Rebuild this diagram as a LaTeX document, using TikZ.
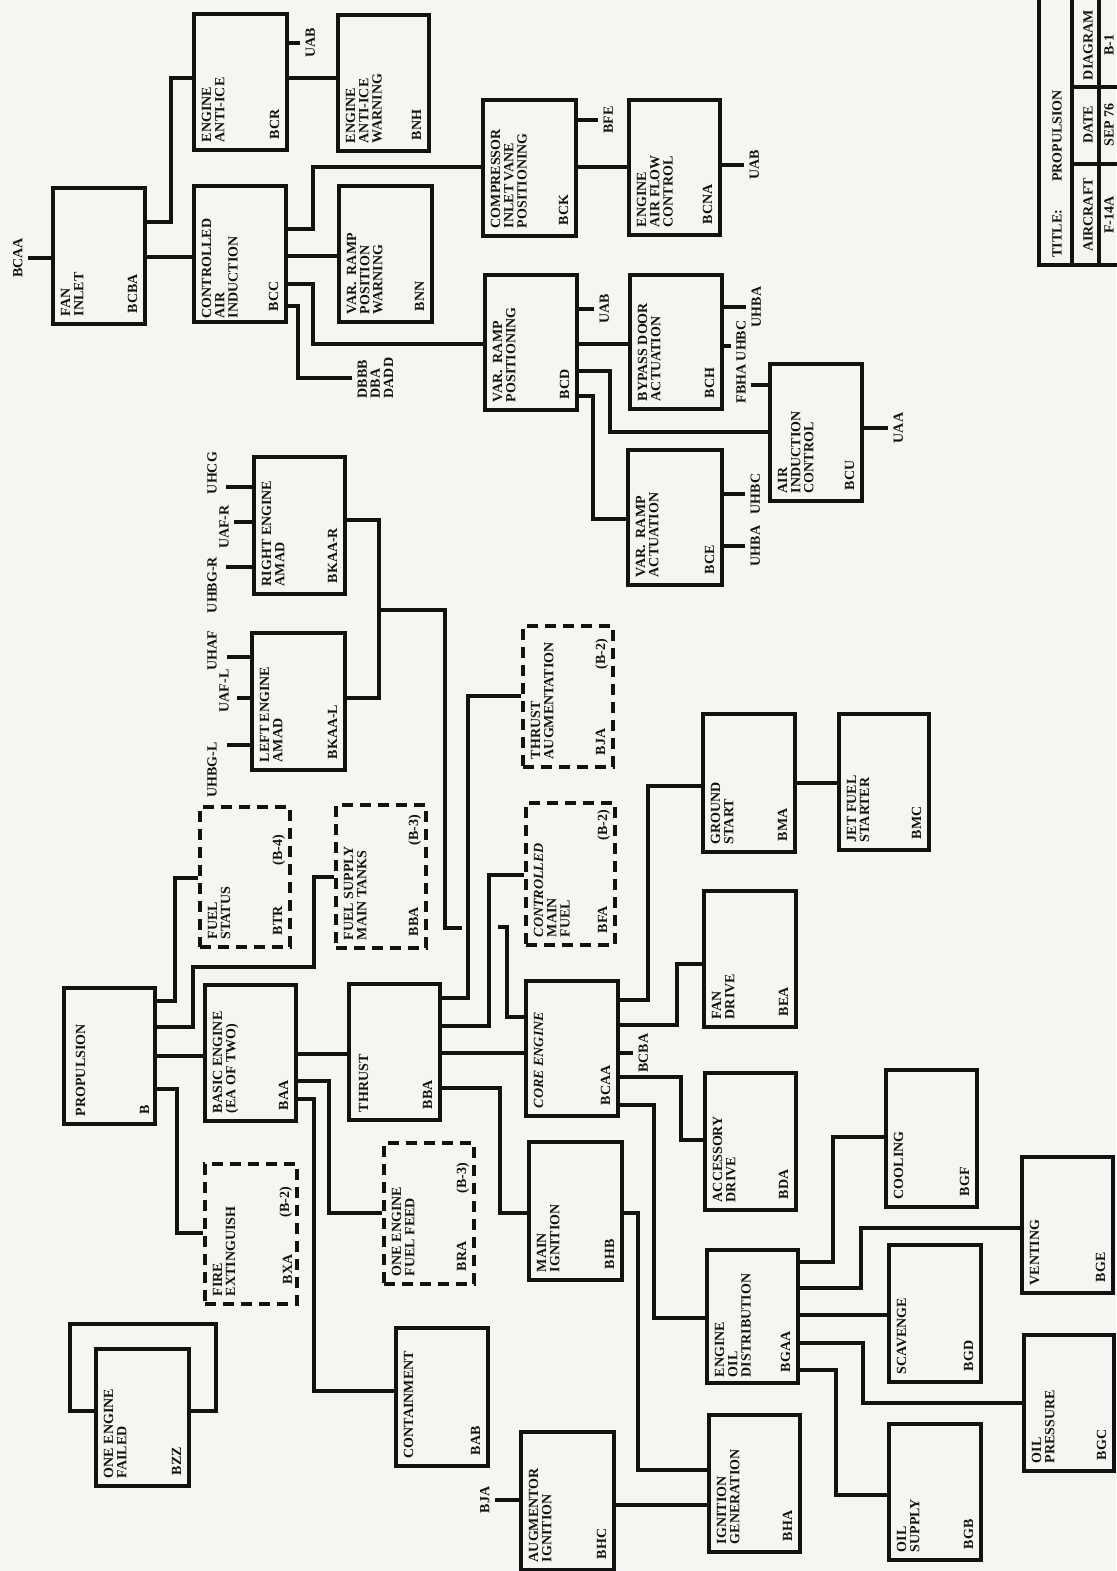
\documentclass[tikz,border=0pt]{standalone}
\usepackage{fontspec}
\setmainfont{Liberation Serif}
\usetikzlibrary{fit,calc}
\definecolor{ink}{RGB}{18,18,18}
\definecolor{paper}{RGB}{245,245,242}

\begin{document}
\begin{tikzpicture}[x=0.5pt,y=-0.5pt,line width=1.6pt,color=ink,
  blk/.style={draw,inner sep=0pt,line width=1.75pt},
  dblk/.style={blk,dash pattern=on 5.5pt off 3.5pt},
  txt/.style={rotate=90,inner sep=0pt,align=left,font=\bfseries\fontsize{7}{6.6}\selectfont},
  lbl/.style={txt,inner sep=2pt}]
\fill[paper] (0,0) rectangle (1116,1571);
\useasboundingbox (0,0) rectangle (1116,1571);

% air induction
\node[blk,fit={(53,188) (145,324)}] (fan) {};
\node[txt,anchor=north west] (fan-t) at ($(fan.south west)+(8,-8)$) {FAN\\INLET};
\node[txt,anchor=south west] (fan-c) at ($(fan.south east)+(-8,-11)$) {BCBA};
\node[blk,fit={(194,14) (287,150)}] (bcr) {};
\node[txt,anchor=north west] (bcr-t) at ($(bcr.south west)+(8,-8)$) {ENGINE\\ANTI-ICE};
\node[txt,anchor=south west] (bcr-c) at ($(bcr.south east)+(-8,-11)$) {BCR};
\node[blk,fit={(338,15) (429,151)}] (bnh) {};
\node[txt,anchor=north west] (bnh-t) at ($(bnh.south west)+(8,-8)$) {ENGINE\\ANTI-ICE\\WARNING};
\node[txt,anchor=south west] (bnh-c) at ($(bnh.south east)+(-8,-11)$) {BNH};
\node[blk,fit={(194,186) (286,322)}] (bcc) {};
\node[txt,anchor=north west] (bcc-t) at ($(bcc.south west)+(8,-4)$) {CONTROLLED\\AIR\\INDUCTION};
\node[txt,anchor=south west] (bcc-c) at ($(bcc.south east)+(-8,-11)$) {BCC};
\node[blk,fit={(339,186) (432,322)}] (bnn) {};
\node[txt,anchor=north west] (bnn-t) at ($(bnn.south west)+(8,-8)$) {VAR.\ \ RAMP\\POSITION\\WARNING};
\node[txt,anchor=south west] (bnn-c) at ($(bnn.south east)+(-8,-11)$) {BNN};
\node[blk,fit={(483,100) (576,236)}] (bck) {};
\node[txt,anchor=north west] (bck-t) at ($(bck.south west)+(8,-8)$) {COMPRESSOR\\INLET VANE\\POSITIONING};
\node[txt,anchor=south west] (bck-c) at ($(bck.south east)+(-8,-11)$) {BCK};
\node[blk,fit={(629,100) (720,235)}] (bcna) {};
\node[txt,anchor=north west] (bcna-t) at ($(bcna.south west)+(8,-8)$) {ENGINE\\AIR FLOW\\CONTROL};
\node[txt,anchor=south west] (bcna-c) at ($(bcna.south east)+(-8,-11)$) {BCNA};
\node[blk,fit={(485,275) (577,410)}] (bcd) {};
\node[txt,anchor=north west] (bcd-t) at ($(bcd.south west)+(8,-8)$) {VAR.\ \ RAMP\\POSITIONING};
\node[txt,anchor=south west] (bcd-c) at ($(bcd.south east)+(-8,-11)$) {BCD};
\node[blk,fit={(630,275) (722,409)}] (bch) {};
\node[txt,anchor=north west] (bch-t) at ($(bch.south west)+(8,-8)$) {BYPASS DOOR\\ACTUATION};
\node[txt,anchor=south west] (bch-c) at ($(bch.south east)+(-8,-11)$) {BCH};
\node[blk,fit={(770,364) (862,501)}] (bcu) {};
\node[txt,anchor=north west] (bcu-t) at ($(bcu.south west)+(8,-8)$) {AIR\\INDUCTION\\CONTROL};
\node[txt,anchor=south west] (bcu-c) at ($(bcu.south east)+(-8,-11)$) {BCU};
\node[blk,fit={(628,450) (722,585)}] (bce) {};
\node[txt,anchor=north west] (bce-t) at ($(bce.south west)+(8,-8)$) {VAR.\ \ RAMP\\ACTUATION};
\node[txt,anchor=south west] (bce-c) at ($(bce.south east)+(-8,-11)$) {BCE};

% stub labels, air induction
\node[lbl,anchor=south] (l-bcaa) at (28,258) {BCAA};
\node[lbl,anchor=north] (l-uab1) at (300,43) {UAB};
\node[lbl,anchor=north] (l-bfe) at (598,120) {BFE};
\node[lbl,anchor=north] (l-uab2) at (744,165) {UAB};
\node[lbl,anchor=north] (l-uab3) at (594,309) {UAB};
\node[lbl,anchor=north] (l-uhba1) at (746,307) {UHBA};
\node[lbl] (l-fu) at (741,362) {FBHA UHBC};
\node[lbl,anchor=north] (l-uaa) at (888,428) {UAA};
\node[lbl,anchor=north] (l-uhbc) at (745,494) {UHBC};
\node[lbl,anchor=north] (l-uhba2) at (745,546) {UHBA};
\node[lbl,anchor=north] (l-db) at (352,378) {DBBB\\DBA\\DADD};

\draw (l-bcaa.south) -- (fan.west |- l-bcaa.south);
\draw (fan.east |- 0,222) -- (171,222) |- (bcr.west |- 0,78);
\draw (fan.east |- 0,257) -- (bcc.west |- 0,257);
\draw (bcr.east |- 0,78) -- (bnh.west |- 0,78);
\draw (bcr.east |- l-uab1.north) -- (l-uab1.north);
\draw (bcc.east |- 0,229) -- (313,229) |- (bck.west |- 0,167);
\draw (bcc.east |- 0,256) -- (bnn.west |- 0,256);
\draw (bcc.east |- 0,284) -- (313,284) |- (bcd.west |- 0,344);
\draw (bcc.east |- 0,306) -- (298,306) |- (l-db.north);
\draw (bck.east |- l-bfe.north) -- (l-bfe.north);
\draw (bck.east |- 0,167) -- (bcna.west |- 0,167);
\draw (bcna.east |- l-uab2.north) -- (l-uab2.north);
\draw (bcd.east |- l-uab3.north) -- (l-uab3.north);
\draw (bcd.east |- 0,344) -- (bch.west |- 0,344);
\draw (bcd.east |- 0,371) -- (610,371) |- (bcu.west |- 0,432);
\draw (bcd.east |- 0,396) -- (593,396) |- (bce.west |- 0,519);
\draw (bch.east |- l-uhba1.north) -- (l-uhba1.north);
\draw (bch.east |- 0,346) -- (l-fu.north |- 0,346);
\draw (l-fu.south |- 0,385) -- (bcu.west |- 0,385);
\draw (bcu.east |- l-uaa.north) -- (l-uaa.north);
\draw (bce.east |- l-uhbc.north) -- (l-uhbc.north);
\draw (bce.east |- l-uhba2.north) -- (l-uhba2.north);

% amad
\node[blk,fit={(254,457) (345,594)}] (bkr) {};
\node[txt,anchor=north west] (bkr-t) at ($(bkr.south west)+(8,-8)$) {RIGHT ENGINE\\AMAD};
\node[txt,anchor=south west] (bkr-c) at ($(bkr.south east)+(-8,-11)$) {BKAA-R};
\node[blk,fit={(252,633) (345,770)}] (bkl) {};
\node[txt,anchor=north west] (bkl-t) at ($(bkl.south west)+(8,-8)$) {LEFT ENGINE\\AMAD};
\node[txt,anchor=south west] (bkl-c) at ($(bkl.south east)+(-8,-11)$) {BKAA-L};
\node[lbl] (l-uhcg) at (212,473) {UHCG};
\node[lbl] (l-uafr) at (224,527) {UAF-R};
\node[lbl] (l-uhbgr) at (212,585) {UHBG-R};
\node[lbl] (l-uhaf) at (212,651) {UHAF};
\node[lbl] (l-uafl) at (224,691) {UAF-L};
\node[lbl] (l-uhbgl) at (212,770) {UHBG-L};
\coordinate (e-uhcg) at (226,487);
\coordinate (e-uafr) at (234,522);
\coordinate (e-uhbgr) at (226,567);
\coordinate (e-uhaf) at (227,657);
\coordinate (e-uafl) at (237,698);
\coordinate (e-uhbgl) at (227,745);
\coordinate (jn) at (379,610);
\coordinate (gapl) at (462,928);
\coordinate (gapr) at (498,927);
\draw (bkr.west |- e-uhcg) -- (e-uhcg);
\draw (bkr.west |- e-uafr) -- (e-uafr);
\draw (bkr.west |- e-uhbgr) -- (e-uhbgr);
\draw (bkl.west |- e-uhaf) -- (e-uhaf);
\draw (bkl.west |- e-uafl) -- (e-uafl);
\draw (bkl.west |- e-uhbgl) -- (e-uhbgl);
\draw (bkr.east |- 0,520) -- (379,520) |- (bkl.east |- 0,698);
\draw (jn) -| (445,928) -- (gapl);

% propulsion
\node[blk,fit={(64,988) (155,1124)}] (prop) {};
\node[txt,anchor=north west] (prop-t) at ($(prop.south west)+(12,-8)$) {PROPULSION};
\node[txt,anchor=south west] (prop-c) at ($(prop.south east)+(-6,-10)$) {B};
\node[dblk,fit={(200,807) (290,947)}] (btr) {};
\node[txt,anchor=north west] (btr-t) at ($(btr.south west)+(8,-8)$) {FUEL\\STATUS};
\node[txt,anchor=south west] (btr-c) at ($(btr.south east)+(-8,-12)$) {BTR};
\node[txt,anchor=south east] (btr-g) at ($(btr.north east)+(-5,28)$) {(B-4)};
\node[dblk,fit={(336,805) (426,948)}] (bsa) {};
\node[txt,anchor=north west] (bsa-t) at ($(bsa.south west)+(8,-8)$) {FUEL SUPPLY\\MAIN TANKS};
\node[txt,anchor=south west] (bsa-c) at ($(bsa.south east)+(-8,-12)$) {BBA};
\node[txt,anchor=south east] (bsa-g) at ($(bsa.north east)+(-5,10)$) {(B-3)};
\node[blk,fit={(205,985) (296,1121)}] (baa) {};
\node[txt,anchor=north west] (baa-t) at ($(baa.south west)+(8,-8)$) {BASIC ENGINE\\(EA OF TWO)};
\node[txt,anchor=south west] (baa-c) at ($(baa.south east)+(-8,-11)$) {BAA};
\node[blk,fit={(349,984) (440,1120)}] (bba) {};
\node[txt,anchor=north west] (bba-t) at ($(bba.south west)+(10,-8)$) {THRUST};
\node[txt,anchor=south west] (bba-c) at ($(bba.south east)+(-8,-11)$) {BBA};
\node[dblk,fit={(523,626) (613,767)}] (bja) {};
\node[txt,anchor=north west] (bja-t) at ($(bja.south west)+(8,-8)$) {THRUST\\AUGMENTATION};
\node[txt,anchor=south west] (bja-c) at ($(bja.south east)+(-8,-12)$) {BJA};
\node[txt,anchor=south east] (bja-g) at ($(bja.north east)+(-5,13)$) {(B-2)};
\node[dblk,fit={(526,803) (615,945)}] (bfa) {};
\node[txt,anchor=north west] (bfa-t) at ($(bfa.south west)+(8,-8)$) {\itshape CONTROLLED\\MAIN\\FUEL};
\node[txt,anchor=south west] (bfa-c) at ($(bfa.south east)+(-8,-12)$) {BFA};
\node[txt,anchor=south east] (bfa-g) at ($(bfa.north east)+(-5,7)$) {(B-2)};
\node[blk,fit={(526,981) (618,1116)}] (bcaa) {};
\node[txt,anchor=north west] (bcaa-t) at ($(bcaa.south west)+(8,-8)$) {\itshape CORE ENGINE};
\node[txt,anchor=south west] (bcaa-c) at ($(bcaa.south east)+(-8,-11)$) {BCAA};
\node[blk,fit={(703,714) (795,852)}] (bma) {};
\node[txt,anchor=north west] (bma-t) at ($(bma.south west)+(8,-8)$) {GROUND\\START};
\node[txt,anchor=south west] (bma-c) at ($(bma.south east)+(-8,-11)$) {BMA};
\node[blk,fit={(839,714) (929,850)}] (bmc) {};
\node[txt,anchor=north west] (bmc-t) at ($(bmc.south west)+(8,-8)$) {JET FUEL\\STARTER};
\node[txt,anchor=south west] (bmc-c) at ($(bmc.south east)+(-8,-11)$) {BMC};
\node[blk,fit={(704,891) (796,1027)}] (bea) {};
\node[txt,anchor=north west] (bea-t) at ($(bea.south west)+(8,-8)$) {FAN\\DRIVE};
\node[txt,anchor=south west] (bea-c) at ($(bea.south east)+(-8,-11)$) {BEA};
\node[dblk,fit={(205,1164) (297,1304)}] (bxa) {};
\node[txt,anchor=north west] (bxa-t) at ($(bxa.south west)+(8,-8)$) {FIRE\\EXTINGUISH};
\node[txt,anchor=south west] (bxa-c) at ($(bxa.south east)+(-5,-20)$) {BXA};
\node[txt,anchor=south east] (bxa-g) at ($(bxa.north east)+(-5,23)$) {(B-2)};
\node[dblk,fit={(384,1143) (474,1284)}] (bra) {};
\node[txt,anchor=north west] (bra-t) at ($(bra.south west)+(8,-8)$) {ONE ENGINE\\FUEL FEED};
\node[txt,anchor=south west] (bra-c) at ($(bra.south east)+(-8,-13)$) {BRA};
\node[txt,anchor=south east] (bra-g) at ($(bra.north east)+(-5,20)$) {(B-3)};
\node[blk,fit={(529,1142) (622,1280)}] (bhb) {};
\node[txt,anchor=north west] (bhb-t) at ($(bhb.south west)+(8,-8)$) {MAIN\\IGNITION};
\node[txt,anchor=south west] (bhb-c) at ($(bhb.south east)+(-8,-11)$) {BHB};
\node[blk,fit={(705,1073) (796,1210)}] (bda) {};
\node[txt,anchor=north west] (bda-t) at ($(bda.south west)+(8,-8)$) {ACCESSORY\\DRIVE};
\node[txt,anchor=south west] (bda-c) at ($(bda.south east)+(-8,-11)$) {BDA};
\node[blk,fit={(96,1349) (189,1486)}] (bzz) {};
\node[txt,anchor=north west] (bzz-t) at ($(bzz.south west)+(8,-8)$) {ONE ENGINE\\FAILED};
\node[txt,anchor=south west] (bzz-c) at ($(bzz.south east)+(-8,-11)$) {BZZ};
\node[blk,fit={(396,1328) (488,1466)}] (bab) {};
\node[txt,anchor=north west] (bab-t) at ($(bab.south west)+(8,-8)$) {CONTAINMENT};
\node[txt,anchor=south west] (bab-c) at ($(bab.south east)+(-8,-11)$) {BAB};
\node[blk,fit={(521,1432) (614,1570)}] (bhc) {};
\node[txt,anchor=north west] (bhc-t) at ($(bhc.south west)+(8,-8)$) {AUGMENTOR\\IGNITION};
\node[txt,anchor=south west] (bhc-c) at ($(bhc.south east)+(-8,-11)$) {BHC};
\node[blk,fit={(709,1415) (800,1552)}] (bha) {};
\node[txt,anchor=north west] (bha-t) at ($(bha.south west)+(8,-8)$) {IGNITION\\GENERATION};
\node[txt,anchor=south west] (bha-c) at ($(bha.south east)+(-8,-11)$) {BHA};

% oil
\node[blk,fit={(707,1250) (798,1383)}] (bgaa) {};
\node[txt,anchor=north west] (bgaa-t) at ($(bgaa.south west)+(8,-6)$) {ENGINE\\OIL\\DISTRIBUTION};
\node[txt,anchor=south west] (bgaa-c) at ($(bgaa.south east)+(-8,-11)$) {BGAA};
\node[blk,fit={(886,1070) (977,1207)}] (bgf) {};
\node[txt,anchor=north west] (bgf-t) at ($(bgf.south west)+(8,-8)$) {COOLING};
\node[txt,anchor=south west] (bgf-c) at ($(bgf.south east)+(-8,-11)$) {BGF};
\node[blk,fit={(1022,1157) (1113,1293)}] (bge) {};
\node[txt,anchor=north west] (bge-t) at ($(bge.south west)+(8,-8)$) {VENTING};
\node[txt,anchor=south west] (bge-c) at ($(bge.south east)+(-8,-11)$) {BGE};
\node[blk,fit={(889,1245) (981,1382)}] (bgd) {};
\node[txt,anchor=north west] (bgd-t) at ($(bgd.south west)+(8,-8)$) {SCAVENGE};
\node[txt,anchor=south west] (bgd-c) at ($(bgd.south east)+(-8,-11)$) {BGD};
\node[blk,fit={(1024,1335) (1114,1471)}] (bgc) {};
\node[txt,anchor=north west] (bgc-t) at ($(bgc.south west)+(8,-8)$) {OIL\\PRESSURE};
\node[txt,anchor=south west] (bgc-c) at ($(bgc.south east)+(-8,-11)$) {BGC};
\node[blk,fit={(889,1424) (981,1560)}] (bgb) {};
\node[txt,anchor=north west] (bgb-t) at ($(bgb.south west)+(8,-8)$) {OIL\\SUPPLY};
\node[txt,anchor=south west] (bgb-c) at ($(bgb.south east)+(-8,-11)$) {BGB};

\node[lbl,anchor=north] (l-bcba) at (633,1053) {BCBA};
\node[lbl,anchor=south] (l-bja) at (495,1500) {BJA};

\draw (gapr) -- (507,927) |- (bcaa.west |- 0,1017);
\draw (prop.east |- 0,1001) -- (175,1001) |- (btr.west |- 0,878);
\draw (prop.east |- 0,1027) -- (193,1027) |- (314,967) |- (bsa.west |- 0,877);
\draw (prop.east |- 0,1056) -- (baa.west |- 0,1056);
\draw (prop.east |- 0,1089) -- (177,1089) |- (bxa.west |- 0,1233);
\draw (baa.east |- 0,1054) -- (bba.west |- 0,1054);
\draw (baa.east |- 0,1081) -- (329,1081) |- (bra.west |- 0,1213);
\draw (baa.east |- 0,1099) -- (314,1099) |- (bab.west |- 0,1391);
\draw (bba.east |- 0,998) -- (468,998) |- (bja.west |- 0,696);
\draw (bba.east |- 0,1026) -- (489,1026) |- (bfa.west |- 0,875);
\draw (bba.east |- 0,1053) -- (bcaa.west |- 0,1053);
\draw (bba.east |- 0,1088) -- (500,1088) |- (bhb.west |- 0,1213);
\draw (bcaa.east |- l-bcba.north) -- (l-bcba.north);
\draw (bcaa.east |- 0,1000) -- (648,1000) |- (bma.west |- 0,786);
\draw (bcaa.east |- 0,1025) -- (677,1025) |- (bea.west |- 0,964);
\draw (bcaa.east |- 0,1077) -- (681,1077) |- (bda.west |- 0,1140);
\draw (bcaa.east |- 0,1105) -- (654,1105) |- (bgaa.west |- 0,1318);
\draw (bma.east |- 0,783) -- (bmc.west |- 0,783);
\draw (bhb.east |- 0,1213) -- (638,1213) |- (bha.west |- 0,1470);
\draw (bhc.east |- 0,1505) -- (bha.west |- 0,1505);
\draw (l-bja.south) -- (bhc.west |- l-bja.south);
\draw (bgaa.east |- 0,1262) -- (833,1262) |- (bgf.west |- 0,1137);
\draw (bgaa.east |- 0,1288) -- (861,1288) |- (bge.west |- 0,1228);
\draw (bgaa.east |- 0,1315) -- (bgd.west |- 0,1315);
\draw (bgaa.east |- 0,1343) -- (863,1343) |- (bgc.west |- 0,1403);
\draw (bgaa.east |- 0,1370) -- (836,1370) |- (bgb.west |- 0,1495);
\draw (bzz.east |- 0,1411) -- (216,1411) |- (70,1324) |- (bzz.west |- 0,1411);

% title block
\draw (1039,-5) rectangle (1130,265);
\draw (1072,-5) -- (1072,265) (1099,-5) -- (1099,265);
\draw (1072,87) -- (1130,87) (1072,164) -- (1130,164);
\node[txt,anchor=west] (ttl) at (1057,259) {TITLE:\hspace{14pt}PROPULSION};
\node[txt] (h-ac) at (1088,215) {AIRCRAFT};
\node[txt] (h-dt) at (1088,125) {DATE};
\node[txt] (h-dg) at (1088,45) {DIAGRAM};
\node[txt] (v-ac) at (1109,215) {F-14A};
\node[txt] (v-dt) at (1109,125) {SEP 76};
\node[txt] (v-dg) at (1109,45) {B-1};
\end{tikzpicture}
\end{document}
